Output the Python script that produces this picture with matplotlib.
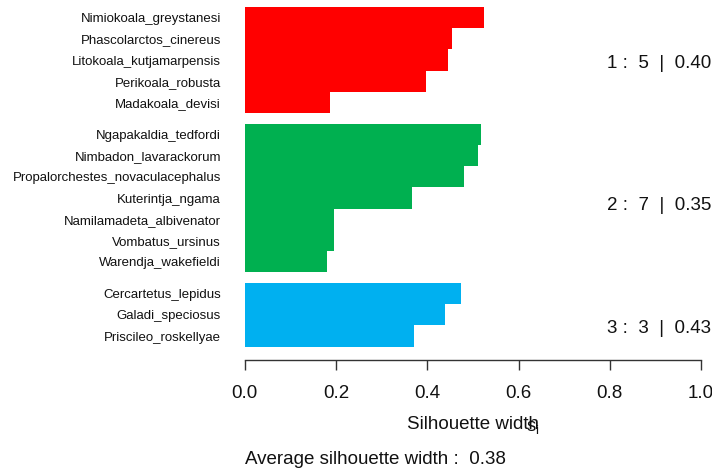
import matplotlib
matplotlib.use("Agg")
import matplotlib.pyplot as plt

plt.rcParams['font.family'] = ['Liberation Sans', 'DejaVu Sans']
plt.rcParams['mathtext.fontset'] = 'custom'
plt.rcParams['mathtext.rm'] = 'Liberation Sans'
plt.rcParams['mathtext.it'] = 'Liberation Sans'

# ---- data ----
cluster_ids = [1, 2, 3]
cluster_names = [
    ["Nimiokoala_greystanesi", "Phascolarctos_cinereus", "Litokoala_kutjamarpensis",
     "Perikoala_robusta", "Madakoala_devisi"],
    ["Ngapakaldia_tedfordi", "Nimbadon_lavarackorum", "Propalorchestes_novaculacephalus",
     "Kuterintja_ngama", "Namilamadeta_albivenator", "Vombatus_ursinus", "Warendja_wakefieldi"],
    ["Cercartetus_lepidus", "Galadi_speciosus", "Priscileo_roskellyae"],
]
cluster_widths = [
    [0.524, 0.454, 0.446, 0.397, 0.187],
    [0.518, 0.511, 0.481, 0.367, 0.196, 0.196, 0.180],
    [0.474, 0.439, 0.371],
]
cluster_avg = [0.40, 0.35, 0.43]
overall_avg = 0.38
cluster_colors = ["#FF0000", "#00B050", "#00B0F0"]
xticks = [0.0, 0.2, 0.4, 0.6, 0.8, 1.0]
xtick_labels = ["0.0", "0.2", "0.4", "0.6", "0.8", "1.0"]

FS = 13.5
W, H = 712, 475
fig = plt.figure(figsize=(W / 100, H / 100), dpi=100)
x0, x1 = 244.6, 701.1
ytop, ybot = 7.0, 360.3
ax = fig.add_axes([x0 / W, 1 - ybot / H, (x1 - x0) / W, (ybot - ytop) / H])

ypos_all, names_all = [], []
y_top = 16.0
for names, widths, col in zip(cluster_names, cluster_widths, cluster_colors):
    for nm, w in zip(names, widths):
        yc = y_top - 0.5
        ax.barh(yc, w, height=1.0, left=0, color=col, edgecolor='none', linewidth=0)
        ypos_all.append(yc)
        names_all.append(nm)
        y_top -= 1.0
    y_top -= 0.5

ax.set_xlim(0, 1)
ax.set_ylim(-0.64, 16)

ax.set_yticks(ypos_all)
ax.set_yticklabels(names_all, fontsize=9.5, color='#111111')
ax.tick_params(axis='y', length=0, pad=17)

ax.set_xticks(xticks)
ax.set_xticklabels(xtick_labels, fontsize=FS, color='#111111')
ax.tick_params(axis='x', direction='out', length=7.4, width=1, color='#333333', pad=10.5)

for s in ['top', 'right', 'left']:
    ax.spines[s].set_visible(False)
ax.spines['bottom'].set_color('#333333')
ax.spines['bottom'].set_linewidth(1)

# cluster annotations (positions)
ann_y = [13.34, 6.67, 0.86]
for cid, n, avg, yy in zip(cluster_ids, cluster_names, cluster_avg, ann_y):
    ax.text(0.7935, yy, f"{cid} :  {len(n)}  |  {avg:.2f}", fontsize=FS,
            ha='left', va='center', clip_on=False, color='#111111')

# x label: "Silhouette width" with overlapping s_i as in the R rendering
fig.text(472.8 / W, 1 - 424.5 / H, "Silhouette width", fontsize=FS,
         ha='center', va='center', color='#111111')
fig.text(526.5 / W, 1 - 427 / H, r"$\mathregular{s_i}$", fontsize=FS,
         ha='left', va='center', color='#111111')

fig.text(245 / W, 1 - 460 / H, f"Average silhouette width :  {overall_avg:.2f}",
         fontsize=FS, ha='left', va='center', color='#111111')

fig.savefig("out.png", dpi=100)
